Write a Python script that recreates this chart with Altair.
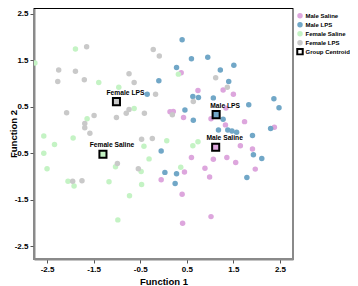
import altair as alt
import pandas as pd

groups = ["Male Saline", "Male LPS", "Female Saline", "Female LPS"]
group_colors = ["#DDA6DD", "#71A7C7", "#C4F3C4", "#C9C9C9"]
legend_entries = groups + ["Group Centroid"]
legend_fills = group_colors + ["white"]
legend_shapes = ["circle", "circle", "circle", "circle", "square"]
legend_strokes = ["transparent", "transparent", "transparent", "transparent", "black"]

male_saline_x = [0.38, 0.74, 1.28, 1.50, 1.34, 0.14, 0.21, 0.43, 1.02, 1.74, 1.33, 2.38, 1.65,
                 1.91, 0.60, 1.07, 1.36, 1.55, 0.89, 1.97, 0.45, 0.99, -0.05, 0.40, 1.02, 0.41]
male_saline_y = [1.23, 0.85, 0.86, 0.77, 0.47, 0.39, 0.40, 0.27, 0.24, 0.18, 0.11, 0.06, -0.34,
                 -0.41, -0.59, -0.63, -0.59, -0.70, -0.82, -0.84, -0.90, -1.01, -1.07, -1.38, -1.86, -2.00]

male_lps_x = [0.40, 0.60, 0.95, 0.28, 1.22, 1.51, -0.10, 1.40, -0.35, 0.63, 0.75, 1.07, 2.37, 2.48,
              1.83, 0.46, 0.64, 1.28, 1.18, 1.38, 1.47, 1.57, 2.30, 1.91, -0.05, 1.93, 2.11, 0.03,
              0.28, 0.25, 1.79]
male_lps_y = [1.94, 1.53, 1.56, 1.34, 1.29, 1.39, 1.06, 1.04, 0.77, 0.72, 0.70, 0.69, 0.67, 0.48,
              0.54, 0.43, 0.21, 0.23, 0.00, 0.00, -0.02, -0.05, 0.03, -0.12, -0.45, -0.53, -0.61, -0.91,
              -0.94, -1.15, -1.02]

female_saline_x = [-1.89, -2.76, -1.39, -0.96, -1.64, -0.63, 0.32, -2.57, -1.94, -2.34, -2.57, -2.50,
                   -1.03, -0.42, 0.07, -0.31, -0.48, -2.05, -1.92, -1.17, -0.47, -0.73, -0.98, 0.63,
                   0.74, 0.37]
female_saline_y = [1.74, 1.44, 1.02, 0.92, 0.24, 0.46, 1.20, -0.13, -0.17, -0.31, -0.50, -0.83,
                   -0.79, -0.35, -0.23, -0.62, -0.89, -1.10, -1.20, -1.11, -1.17, -1.41, -1.93, -0.34,
                   -0.25, -0.80]

female_lps_x = [-1.65, -0.22, -0.09, -2.25, -1.89, -2.27, -1.70, -0.74, -0.63, -0.17, -2.08, -1.49,
                -1.01, -1.69, -1.69, -1.58, -0.80, -0.74, -0.41, -0.47, -0.24, 1.12, 1.37, 0.64,
                0.19, -0.99, -1.95, -1.75, -0.54]
female_lps_y = [1.79, 1.73, 1.59, 1.29, 1.26, 1.04, 1.08, 1.21, 1.02, 0.77, 0.37, 0.31, 0.27, 0.14,
                0.05, -0.07, 0.36, 0.44, 0.36, -0.20, -0.18, 1.12, 0.92, 0.61, 0.33, -0.72, -1.10,
                -1.09, -0.83]

centroid_groups = ["Female LPS", "Female Saline", "Male LPS", "Male Saline"]
centroid_x = [-1.01, -1.30, 1.13, 1.12]
centroid_y = [0.61, -0.52, 0.33, -0.37]

tick_values = [-2.5, -1.5, -0.5, 0.5, 1.5, 2.5]
x_domain = [-2.78, 2.78]
y_domain = [-2.77, 2.62]

rows = []
for g, xs, ys in [("Male Saline", male_saline_x, male_saline_y),
                  ("Male LPS", male_lps_x, male_lps_y),
                  ("Female Saline", female_saline_x, female_saline_y),
                  ("Female LPS", female_lps_x, female_lps_y)]:
    for a, b in zip(xs, ys):
        rows.append({"f1": a, "f2": b, "group": g})
pts = pd.DataFrame(rows)
cent = pd.DataFrame({"f1": centroid_x, "f2": centroid_y, "group": centroid_groups})

FONT = "Liberation Sans"
label_expr = "(datum.value < 0 ? '-' : '') + format(abs(datum.value), '.1f')"

x_enc = alt.X("f1:Q", scale=alt.Scale(domain=x_domain, nice=False, zero=False),
              axis=alt.Axis(values=tick_values, labelExpr=label_expr, title="Function 1",
                            titlePadding=3))
y_enc = alt.Y("f2:Q", scale=alt.Scale(domain=y_domain, nice=False, zero=False),
              axis=alt.Axis(values=tick_values, labelExpr=label_expr, title="Function 2",
                            titleX=-21, titleBaseline="middle"))

legend_def = alt.Legend(title=None, orient="none", legendX=262, legendY=4, clipHeight=7.6)

points = alt.Chart(pts).mark_point(filled=True, size=30, opacity=1, clip=True).encode(
    x=x_enc, y=y_enc,
    color=alt.Color("group:N", scale=alt.Scale(domain=legend_entries, range=legend_fills), legend=legend_def),
    shape=alt.Shape("group:N", scale=alt.Scale(domain=legend_entries, range=legend_shapes), legend=legend_def),
    stroke=alt.Stroke("group:N", scale=alt.Scale(domain=legend_entries, range=legend_strokes), legend=legend_def),
)

centroids = alt.Chart(cent).mark_point(shape="square", filled=True, size=50, opacity=1,
                                       stroke="black", strokeWidth=2).encode(
    x="f1:Q", y="f2:Q", color=alt.Color("group:N", legend=None)
)

labels = alt.Chart(cent).mark_text(dx=9, dy=-9, fontSize=6.7, fontWeight="bold", font=FONT,
                                   color="black").encode(
    x="f1:Q", y="f2:Q", text="group:N"
)

top_rule = alt.Chart(cent).mark_rule(color="black", strokeWidth=1.5).encode(
    y=alt.datum(y_domain[1])
)

chart = alt.layer(points, centroids, labels, top_rule).properties(
    width=259, height=251,
    autosize=alt.AutoSizeParams(type="none"),
    padding={"left": 26, "top": 0, "right": 57, "bottom": 27},
).configure_view(
    stroke="#8a8a8a", strokeWidth=2
).configure_axis(
    grid=False, domainColor="#8a8a8a", domainWidth=2, tickColor="#555555", tickSize=4,
    labelFont=FONT, labelFontSize=8, labelFontWeight="bold", labelColor="black", labelPadding=2,
    titleFont=FONT, titleFontSize=9.5, titleFontWeight="bold", titleColor="black"
).configure_legend(
    padding=0, labelFont=FONT, labelFontSize=6, labelFontWeight="bold", labelColor="black",
    symbolSize=30, symbolStrokeWidth=2, rowPadding=1, labelOffset=1.5, symbolOpacity=1
)

chart.save("out.html", embed_options={"renderer": "svg", "actions": False})
